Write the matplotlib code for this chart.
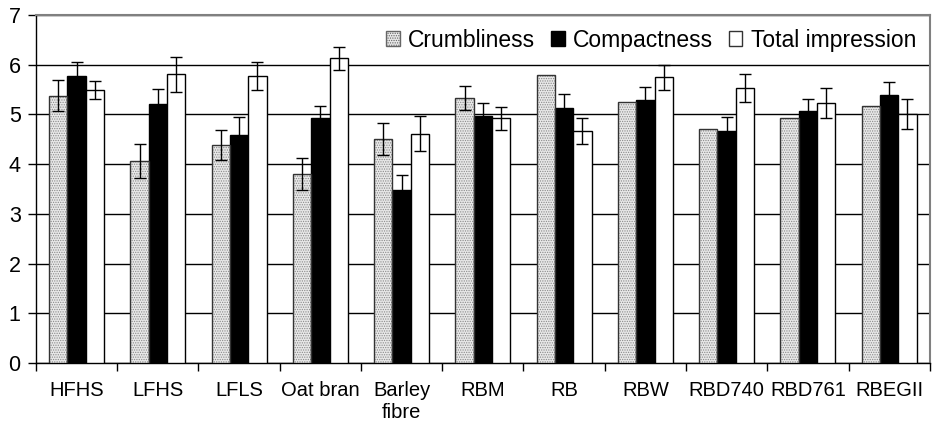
import numpy as np
import matplotlib
matplotlib.use("Agg")
import matplotlib.pyplot as plt
from matplotlib.patches import Patch

plt.rcParams['font.family'] = ['Liberation Sans', 'DejaVu Sans']
plt.rcParams['hatch.linewidth'] = 0.6

# data
categories = ["HFHS", "LFHS", "LFLS", "Oat bran", "Barley\nfibre", "RBM", "RB",
              "RBW", "RBD740", "RBD761", "RBEGII"]
crumbliness = [5.38, 4.07, 4.39, 3.81, 4.51, 5.33, 5.80, 5.26, 4.71, 4.92, 5.18]
crumb_err = [0.32, 0.34, 0.30, 0.32, 0.32, 0.24, 0, 0, 0, 0, 0]
compactness = [5.78, 5.21, 4.59, 4.92, 3.49, 4.96, 5.14, 5.29, 4.66, 5.06, 5.39]
compact_err = [0.28, 0.30, 0.35, 0.26, 0.30, 0.28, 0.27, 0.27, 0.28, 0.25, 0.27]
total = [5.49, 5.81, 5.77, 6.13, 4.61, 4.92, 4.66, 5.75, 5.53, 5.23, 5.01]
total_err = [0.18, 0.35, 0.28, 0.23, 0.35, 0.24, 0.26, 0.25, 0.28, 0.30, 0.30]

fig = plt.figure(figsize=(9.32, 4.25), dpi=100)
ax = fig.add_axes([0.0386, 0.146, 0.959, 0.8185])

x = np.arange(len(categories))
w = 0.225
ekw = dict(ecolor='black', elinewidth=1, capsize=4, capthick=1)

# crumbliness: dotted grey fill, then outline
ax.bar(x - w, crumbliness, w, color='#e8e8e8', edgecolor='#8a8a8a', hatch='.......',
       linewidth=0, zorder=3)
ax.bar(x - w, crumbliness, w, fill=False, edgecolor='#333333', linewidth=1, zorder=4)
ce = [e if e > 0 else np.nan for e in crumb_err]
ax.errorbar(x - w, crumbliness, yerr=ce, fmt='none', zorder=5, **ekw)

ax.bar(x, compactness, w, color='black', edgecolor='black', linewidth=1, zorder=3)
ax.errorbar(x, compactness, yerr=compact_err, fmt='none', zorder=5, **ekw)

ax.bar(x + w, total, w, color='white', edgecolor='black', linewidth=1, zorder=3)
ax.errorbar(x + w, total, yerr=total_err, fmt='none', zorder=5, **ekw)

ax.set_xlim(-0.5, len(categories) - 0.5)
ax.set_ylim(0, 7)
ax.set_yticks(range(0, 8))
ax.yaxis.grid(True, color='black', linewidth=1, zorder=0)
ax.set_axisbelow(True)

ax.set_xticks(x)
ax.set_xticklabels(categories, fontsize=14.5, linespacing=1.2)
ax.tick_params(axis='x', length=0, pad=13)
ax.set_xticks(np.arange(len(categories) + 1) - 0.5, minor=True)
ax.tick_params(axis='x', which='minor', length=6, direction='out', width=1)
ax.tick_params(axis='y', length=6, direction='out', width=1, labelsize=15.5, pad=5)

for s in ['top', 'right']:
    ax.spines[s].set_color('#808080')
    ax.spines[s].set_linewidth(1.5)
ax.spines['left'].set_linewidth(1)
ax.spines['bottom'].set_linewidth(1)

handles = [Patch(facecolor='#e8e8e8', edgecolor='#666666', hatch='.......'),
           Patch(facecolor='black', edgecolor='black'),
           Patch(facecolor='white', edgecolor='#333333')]
leg = ax.legend(handles, ["Crumbliness", "Compactness", "Total impression"],
                loc='upper right', ncol=3, frameon=True, fontsize=16.5,
                handlelength=0.6, handleheight=0.6, handletextpad=0.36,
                columnspacing=0.68, borderaxespad=0.3, borderpad=0.3,
                fancybox=False)
leg.get_frame().set_facecolor('white')
leg.get_frame().set_edgecolor('white')
leg.get_frame().set_alpha(1)
leg.set_zorder(6)

fig.savefig("out.png", dpi=100)
